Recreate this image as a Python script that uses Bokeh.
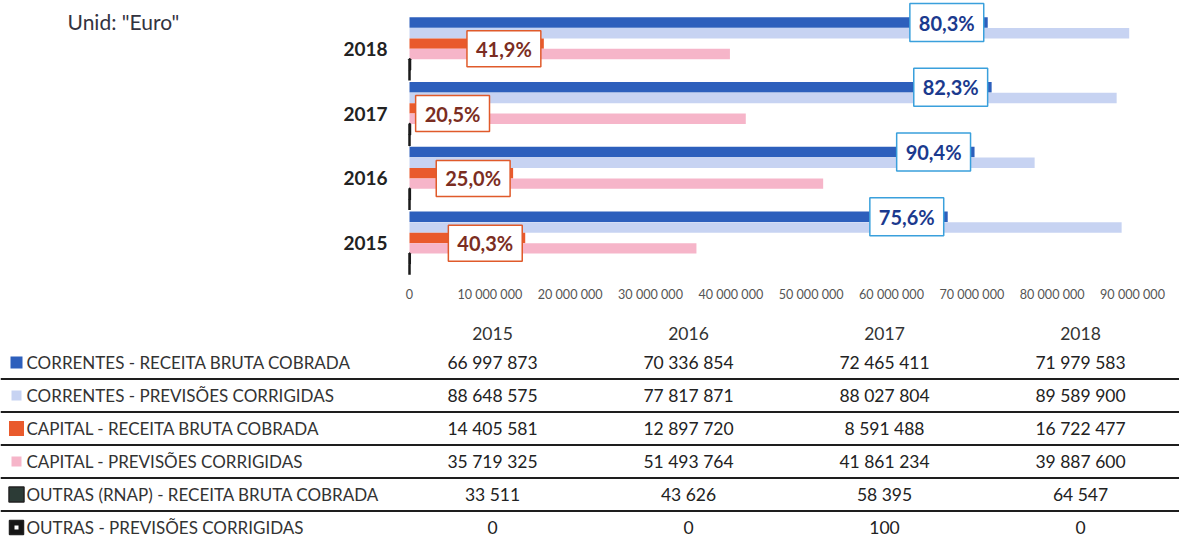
import numpy as np
from bokeh.plotting import figure
from bokeh.models import ColumnDataSource, FactorRange, Range1d, FixedTicker
from bokeh.transform import dodge
from bokeh.layouts import column
from bokeh.core.properties import value
from bokeh.embed import file_html
from bokeh.resources import INLINE

# ---------------- data ----------------
years = ["2015", "2016", "2017", "2018"]
series_names = [
    "CORRENTES - RECEITA BRUTA COBRADA",
    "CORRENTES - PREVISÕES CORRIGIDAS",
    "CAPITAL - RECEITA BRUTA COBRADA",
    "CAPITAL - PREVISÕES CORRIGIDAS",
    "OUTRAS (RNAP) - RECEITA BRUTA COBRADA",
    "OUTRAS - PREVISÕES CORRIGIDAS",
]
correntes_receita = [66997873, 70336854, 72465411, 71979583]
correntes_previsoes = [88648575, 77817871, 88027804, 89589900]
capital_receita = [14405581, 12897720, 8591488, 16722477]
capital_previsoes = [35719325, 51493764, 41861234, 39887600]
outras_receita = [33511, 43626, 58395, 64547]
outras_previsoes = [0, 0, 100, 0]
x_ticks = [0, 10000000, 20000000, 30000000, 40000000, 50000000,
           60000000, 70000000, 80000000, 90000000]
unit_text = 'Unid: "Euro"'

series_values = [correntes_receita, correntes_previsoes, capital_receita,
                 capital_previsoes, outras_receita, outras_previsoes]
colors = ["#2D5FBC", "#C7D3F2", "#E95A2C", "#F6B5C9", "#2C3B36", "#151515"]

FONT = "Lato"
W = 1179
CH = 311
TH = 538 - CH

def fmt(v):
    return f"{v:,}".replace(",", " ")

def pct(a, b):
    return f"{a / b * 100:.1f}%".replace(".", ",")

# ---------------- chart ----------------
X0_PX = 409          # pixel position of value 0
XMAX = 90000000
ppu = (1132 - X0_PX) / XMAX  # pixels per unit

p = figure(width=W, height=CH,
           y_range=FactorRange(*years, range_padding=0.247,
                               range_padding_units="absolute"),
           x_range=Range1d(-X0_PX / ppu, (W - X0_PX) / ppu),
           output_backend="svg", toolbar_location=None,
           min_border_left=0, min_border_right=0, min_border_top=0,
           min_border_bottom=20)
p.outline_line_color = None
p.grid.grid_line_color = None
p.yaxis.visible = False

p.xaxis.ticker = FixedTicker(ticks=x_ticks)
p.xaxis.major_label_overrides = {t: fmt(t) for t in x_ticks}
p.xaxis.axis_line_color = None
p.xaxis.major_tick_line_color = None
p.xaxis.minor_tick_line_color = None
p.xaxis.major_tick_out = 0
p.xaxis.major_tick_in = 0
p.xaxis.major_label_standoff = -5
p.xaxis.major_label_text_font = FONT
p.xaxis.major_label_text_font_size = "12.6px"
p.xaxis.major_label_text_color = "#555555"

offsets = [0.406, 0.243, 0.081, -0.081, -0.243, -0.406]
bar_h = 0.162

for i, vals in enumerate(series_values):
    src = ColumnDataSource(dict(year=years, v=vals))
    if i >= 4:
        p.hbar(y=dodge("year", offsets[i], range=p.y_range), left=0, right="v",
               height=bar_h, source=src, fill_color=colors[i],
               line_color="#1a1a1a", line_width=2.5)
    else:
        p.hbar(y=dodge("year", offsets[i], range=p.y_range), left=0, right="v",
               height=bar_h, source=src, fill_color=colors[i], line_color=None)

# year labels (category axis)
p.text(x=[0] * len(years), y=years, text=years, text_align="right",
       text_baseline="middle", x_offset=-22, text_font=value(FONT),
       text_font_size="19px", text_font_style="bold", text_color="#222222")

# unit note
p.text(x="x", y=dodge("y", 0.418, range=p.y_range),
       source=ColumnDataSource(dict(x=[0], y=[years[-1]], t=[unit_text])),
       text="t", text_align="left", text_baseline="middle",
       x_offset=67 - X0_PX, text_font=value(FONT), text_font_size="21px",
       text_color="#33333f")

# percentage labels
blue_src = ColumnDataSource(dict(
    year=years, x=correntes_receita,
    t=[pct(a, b) for a, b in zip(correntes_receita, correntes_previsoes)]))
p.text(x="x", y=dodge("year", offsets[0], range=p.y_range), text="t",
       source=blue_src, text_align="right", text_baseline="middle",
       x_offset=-4, text_font=value(FONT), text_font_size="20px",
       text_font_style="bold", text_color="#1B3A8E",
       background_fill_color="white", border_line_color="#3AA0DC",
       border_line_width=1.5, padding=(9, 7))

min_anchor = (4 + 76 + 3) / ppu
cap_x = [max(v, min_anchor) for v in capital_receita]
orange_src = ColumnDataSource(dict(
    year=years, x=cap_x,
    t=[pct(a, b) for a, b in zip(capital_receita, capital_previsoes)]))
p.text(x="x", y=dodge("year", 0.0, range=p.y_range), text="t",
       source=orange_src, text_align="right", text_baseline="middle",
       x_offset=-3, text_font=value(FONT), text_font_size="20px",
       text_font_style="bold", text_color="#7B2D22",
       background_fill_color="white", border_line_color="#E05A2B",
       border_line_width=1.5, padding=(9, 6))

# ---------------- table ----------------
t = figure(width=W, height=TH, x_range=Range1d(0, W), y_range=Range1d(TH, 0),
           output_backend="svg", toolbar_location=None, min_border=0)
t.axis.visible = False
t.grid.grid_line_color = None
t.outline_line_color = None

col_x0 = 492
col_dx = 196
head_y = 22
row_y0 = 51
row_dy = 33
col_x = [col_x0 + j * col_dx for j in range(len(years))]
row_y = [row_y0 + i * row_dy for i in range(len(series_names))]

t.text(x=col_x, y=[head_y] * len(years), text=years, text_align="center",
       text_baseline="middle", text_font=value(FONT), text_font_size="17.5px",
       text_color="#333333")

# separators
sep_y = [row_y[i] + row_dy / 2 for i in range(len(series_names) - 1)]
t.segment(x0=[0] * len(sep_y), x1=[W] * len(sep_y), y0=sep_y, y1=sep_y,
          line_color="#1e1e1e", line_width=2)

# row labels + legend markers
sizes = [12, 10, 15, 10, 15, 14]
for i, name in enumerate(series_names):
    t.rect(x=[16], y=[row_y[i]], width=sizes[i], height=sizes[i],
           fill_color=colors[i],
           line_color="#222222" if i >= 4 else None, line_width=1.5)
    if i == 5:
        t.rect(x=[16], y=[row_y[i]], width=4, height=4, fill_color="white",
               line_color=None)
t.text(x=[26] * len(series_names), y=row_y, text=series_names,
       text_align="left", text_baseline="middle", text_font=value(FONT),
       text_font_size="17px", text_color="#333333")

for i, vals in enumerate(series_values):
    t.text(x=col_x, y=[row_y[i]] * len(vals), text=[fmt(v) for v in vals],
           text_align="center", text_baseline="middle", text_font=value(FONT),
           text_font_size="17.5px", text_color="#222222")

layout = column(p, t, spacing=0)
open("out.html", "w").write(file_html(layout, INLINE))
